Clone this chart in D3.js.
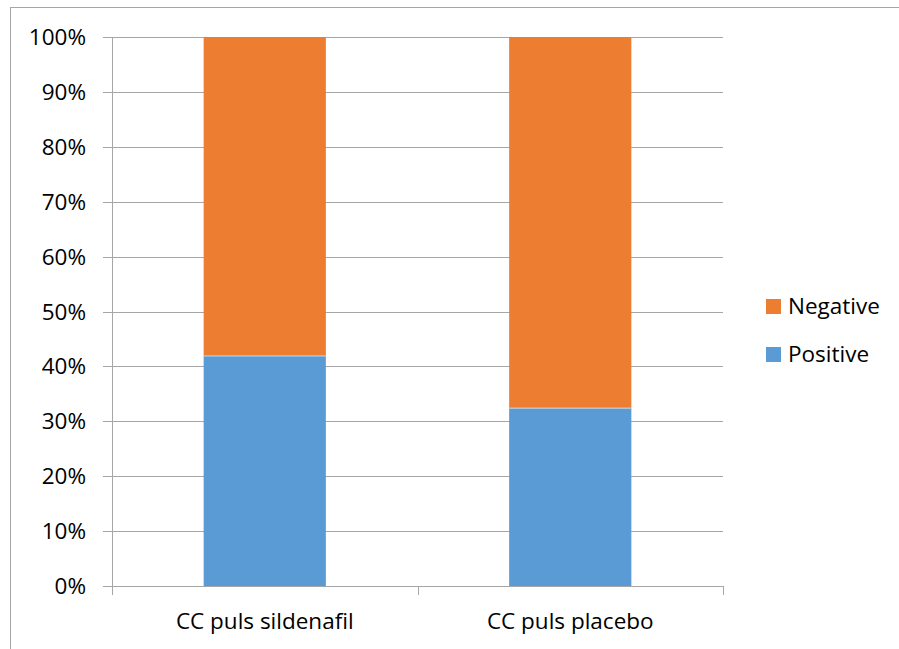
<!DOCTYPE html>
<html>
<head>
<meta charset="utf-8">
<script src="https://cdn.jsdelivr.net/npm/d3@7"></script>
<style>
  body { margin: 0; background: #fff; }
  svg { display: block; font-family: "Open Sans", "Noto Sans", sans-serif; }
</style>
</head>
<body>
<svg id="chart" width="899" height="649"></svg>
<script>
// Groups and the share of each outcome (fractions of 1)
const categories = ["CC puls sildenafil", "CC puls placebo"];
const positive = [0.419, 0.324];
const negative = [0.581, 0.676];
const seriesNames = ["Positive", "Negative"];
const seriesColors = ["#5B9BD5", "#ED7D31"];
const yTicks = [0, 0.1, 0.2, 0.3, 0.4, 0.5, 0.6, 0.7, 0.8, 0.9, 1.0];

const rows = categories.map((c, i) => ({ category: c, Positive: positive[i], Negative: negative[i] }));
const stacked = d3.stack().keys(seriesNames)(rows);

const svg = d3.select("#chart");
const fontSize = 22.5;

// outer frame
svg.append("rect")
  .attr("x", 10.5).attr("y", 7.5)
  .attr("width", 900).attr("height", 660)
  .attr("fill", "none").attr("stroke", "#a6a6a6").attr("stroke-width", 1);

const plot = { left: 112, right: 723, top: 37, bottom: 586 };

const x = d3.scaleBand().domain(categories)
  .range([plot.left, plot.right]).paddingInner(0.6).paddingOuter(0.3);
const y = d3.scaleLinear().domain([0, 1]).range([plot.bottom, plot.top]);

// horizontal gridlines with left tick stubs
svg.append("g").selectAll("line").data(yTicks).join("line")
  .attr("x1", plot.left - 9).attr("x2", plot.right)
  .attr("y1", d => Math.round(y(d)) + 0.5).attr("y2", d => Math.round(y(d)) + 0.5)
  .attr("stroke", "#a6a6a6").attr("stroke-width", 1);

// y tick labels
svg.append("g").selectAll("text").data(yTicks).join("text")
  .attr("x", 86).attr("y", d => y(d) + 8)
  .attr("text-anchor", "end")
  .attr("font-size", fontSize).attr("fill", "#000")
  .text(d => d3.format(".0%")(d));

// stacked bars
svg.append("g").selectAll("g").data(stacked).join("g")
  .attr("fill", (d, i) => seriesColors[i])
  .selectAll("rect").data(d => d).join("rect")
  .attr("x", d => x(d.data.category))
  .attr("width", x.bandwidth())
  .attr("y", d => y(d[1]))
  .attr("height", d => y(d[0]) - y(d[1]));

// segment separators
svg.append("g").selectAll("line").data(rows).join("line")
  .attr("x1", d => x(d.category)).attr("x2", d => x(d.category) + x.bandwidth())
  .attr("y1", d => y(d.Positive)).attr("y2", d => y(d.Positive))
  .attr("stroke", "#ffffff").attr("stroke-opacity", 0.6).attr("stroke-width", 1);

// y axis line
svg.append("line")
  .attr("x1", plot.left + 0.5).attr("x2", plot.left + 0.5)
  .attr("y1", plot.top).attr("y2", plot.bottom + 9)
  .attr("stroke", "#a6a6a6");

// x axis line and category boundary ticks
svg.append("line")
  .attr("x1", plot.left).attr("x2", plot.right)
  .attr("y1", plot.bottom + 0.5).attr("y2", plot.bottom + 0.5)
  .attr("stroke", "#a6a6a6");
const step = (plot.right - plot.left) / categories.length;
svg.append("g").selectAll("line").data(d3.range(categories.length + 1)).join("line")
  .attr("x1", i => Math.round(plot.left + i * step) + 0.5)
  .attr("x2", i => Math.round(plot.left + i * step) + 0.5)
  .attr("y1", plot.bottom).attr("y2", plot.bottom + 9)
  .attr("stroke", "#a6a6a6");

// category labels
svg.append("g").selectAll("text").data(categories).join("text")
  .attr("x", d => x(d) + x.bandwidth() / 2)
  .attr("y", 629)
  .attr("text-anchor", "middle")
  .attr("font-size", fontSize).attr("fill", "#000")
  .text(d => d);

// legend (Negative above Positive)
const legendItems = [
  { name: seriesNames[1], color: seriesColors[1], y: 299 },
  { name: seriesNames[0], color: seriesColors[0], y: 347 }
];
const lg = svg.append("g").selectAll("g").data(legendItems).join("g")
  .attr("transform", d => `translate(766,${d.y})`);
lg.append("rect").attr("width", 15).attr("height", 15).attr("fill", d => d.color);
lg.append("text").attr("x", 22).attr("y", 14.5)
  .attr("font-size", fontSize).attr("fill", "#000")
  .text(d => d.name);
</script>
</body>
</html>
